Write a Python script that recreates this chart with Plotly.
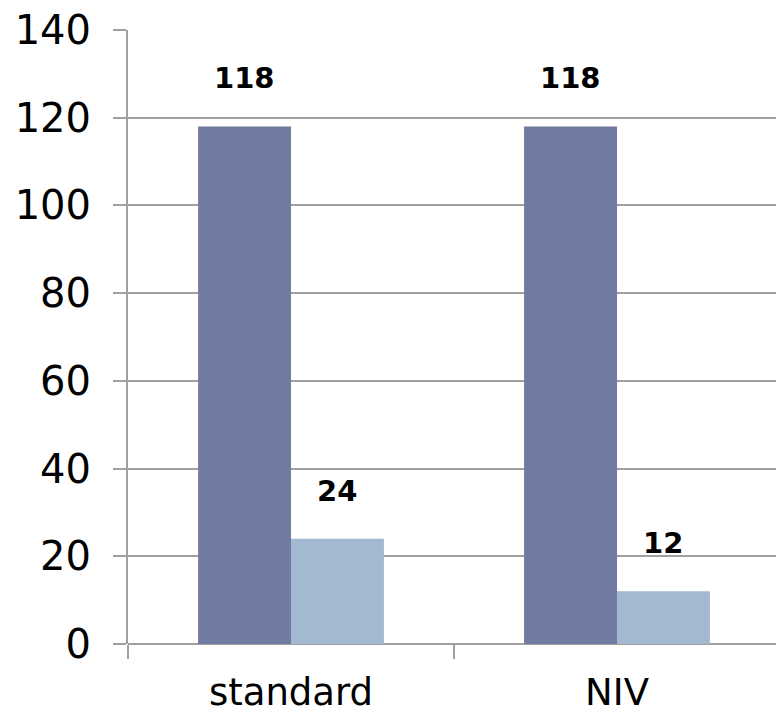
import plotly.graph_objects as go

categories = ["standard", "NIV"]
series_a = [118, 118]
series_b = [24, 12]

dark = "#717ba1"
light = "#a3b9cf"
grid = "#a0a0a0"
font_family = "DejaVu Sans"

fig = go.Figure()
fig.add_trace(go.Bar(x=categories, y=series_a, marker=dict(color=dark, line=dict(width=0)),
                     showlegend=False, offsetgroup="a"))
fig.add_trace(go.Bar(x=categories, y=series_b, marker=dict(color=light, line=dict(width=0)),
                     showlegend=False, offsetgroup="b"))

# value labels above each bar
bar_w = (1 - 0.43) / 2
for i, cat in enumerate(categories):
    for vals, off in ((series_a, -bar_w / 2), (series_b, bar_w / 2)):
        fig.add_annotation(x=i + off, y=vals[i], text=f"<b>{vals[i]}</b>",
                           showarrow=False, yanchor="bottom", yshift=29,
                           font=dict(family=font_family, size=29, color="black"))

fig.update_layout(
    width=776, height=718,
    margin=dict(l=128, r=0, t=30, b=74),
    paper_bgcolor="white", plot_bgcolor="white",
    barmode="group", bargap=0.43, bargroupgap=0,
    font=dict(family=font_family, color="black"),
)
fig.update_xaxes(
    type="category", range=[-0.5, 1.5 - 4 / 326], automargin=False,
    tickson="boundaries", ticks="outside", ticklen=14, tickwidth=2, tickcolor=grid,
    showline=False, showgrid=False,
    tickfont=dict(size=37, family=font_family), ticklabelstandoff=23,
)
fig.update_yaxes(
    range=[0, 140], dtick=20, tick0=0, automargin=False,
    showgrid=True, gridcolor=grid, gridwidth=2,
    ticks="outside", ticklen=13, tickwidth=2, tickcolor=grid,
    showline=True, linecolor=grid, linewidth=2,
    zeroline=True, zerolinecolor=grid, zerolinewidth=2,
    tickfont=dict(size=40, family=font_family), ticklabelstandoff=14,
)

fig.write_html("out.html")
